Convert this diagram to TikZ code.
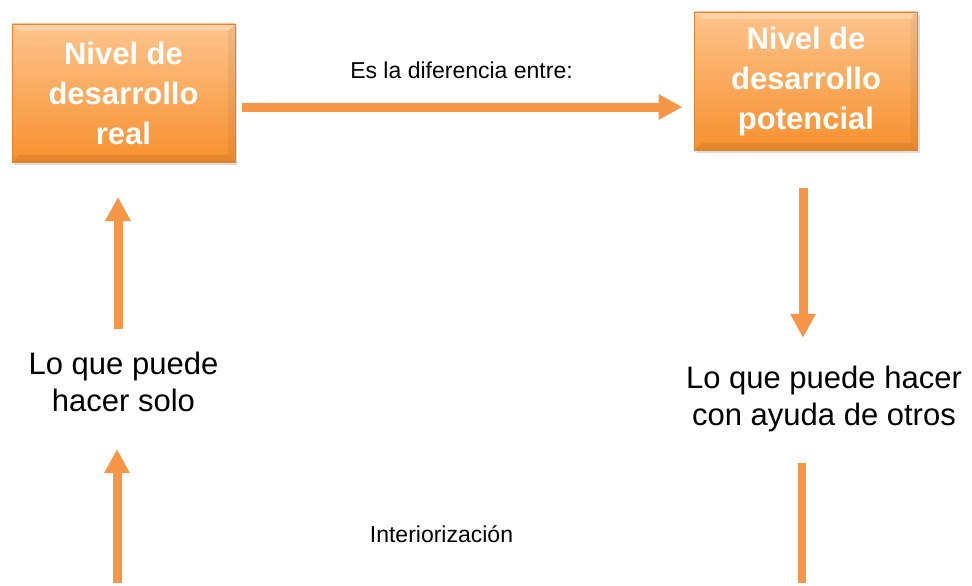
\documentclass[tikz,border=0pt]{standalone}
\usepackage{fontspec}
\setmainfont{Liberation Sans}
\usetikzlibrary{positioning,calc,arrows.meta,shadows}
\definecolor{accent}{HTML}{F79646}
\definecolor{blocktop}{HTML}{FDC48C}
\definecolor{blockbot}{HTML}{F7902E}
\definecolor{bevel}{HTML}{E4842F}
\tikzset{
block/.style = {rectangle, outer sep=0pt, inner sep=0pt, minimum width=223pt, minimum height=138pt,
  top color=blocktop, bottom color=blockbot, draw=bevel, line width=0.6pt, align=center, text=white,
  font=\fontsize{31}{40}\selectfont\bfseries,
  drop shadow={shadow xshift=2pt, shadow yshift=-3pt, opacity=0.2, fill=black!70},
  path picture={
    \fill[white, opacity=0.25] (path picture bounding box.north west) -- (path picture bounding box.north east)
      -- ([shift={(-7pt,-7pt)}]path picture bounding box.north east) -- ([shift={(7pt,-7pt)}]path picture bounding box.north west) -- cycle;
    \fill[black, opacity=0.08] (path picture bounding box.south west) -- (path picture bounding box.south east)
      -- ([shift={(-7pt,7pt)}]path picture bounding box.south east) -- ([shift={(7pt,7pt)}]path picture bounding box.south west) -- cycle;
    \fill[black, opacity=0.05] (path picture bounding box.north east) -- (path picture bounding box.south east)
      -- ([shift={(-7pt,7pt)}]path picture bounding box.south east) -- ([shift={(-7pt,-7pt)}]path picture bounding box.north east) -- cycle;
  }},
textnode/.style = {align=center, inner sep=0pt, font=\fontsize{31}{37}\selectfont},
smalltext/.style = {inner sep=0pt, anchor=base, font=\fontsize{23}{28}\selectfont},
flow/.style = {draw=accent, line width=9pt, -{Triangle[length=24pt,width=24pt]}},
bar/.style = {draw=accent, line width=8pt}
}
\begin{document}
\begin{tikzpicture}[x=1pt, y=-1pt]
    \useasboundingbox (0,0) rectangle (972,586);

    \node [block] (real) at (123.5,93) {Nivel de\\desarrollo\\real};
    \node [block] (pot) at (806,81) {Nivel de\\desarrollo\\potencial};

    \node [textnode] (solo) at (123.5,382) {Lo que puede\\hacer solo};
    \node [textnode] (otros) at (824,399) {Lo que puede hacer\\con ayuda de otros};

    \node [smalltext] (dif) at (461.5,78) {Es la diferencia entre:};
    \node [smalltext] (inter) at (441.5,542) {Interiorización};

    \coordinate (src) at (117,583);
    \coordinate (dst) at (802,583);

    \draw[flow, shorten <=7pt, shorten >=12pt] ([yshift=-14pt]real.east) -- ([yshift=-14pt]real.east -| pot.west);
    \draw[flow, shorten <=23pt, shorten >=35pt] ([xshift=-5.5pt]solo.north) -- ([xshift=-5.5pt]solo.north |- real.south);
    \draw[flow, shorten <=38pt, shorten >=28pt] ([xshift=-3pt]pot.south) -- ([xshift=-3pt]pot.south |- otros.north);
    \draw[flow, shorten >=37pt] (src) -- (src |- solo.south);
    \draw[bar, shorten <=31pt] (dst |- otros.south) -- (dst);

\end{tikzpicture}
\end{document}
